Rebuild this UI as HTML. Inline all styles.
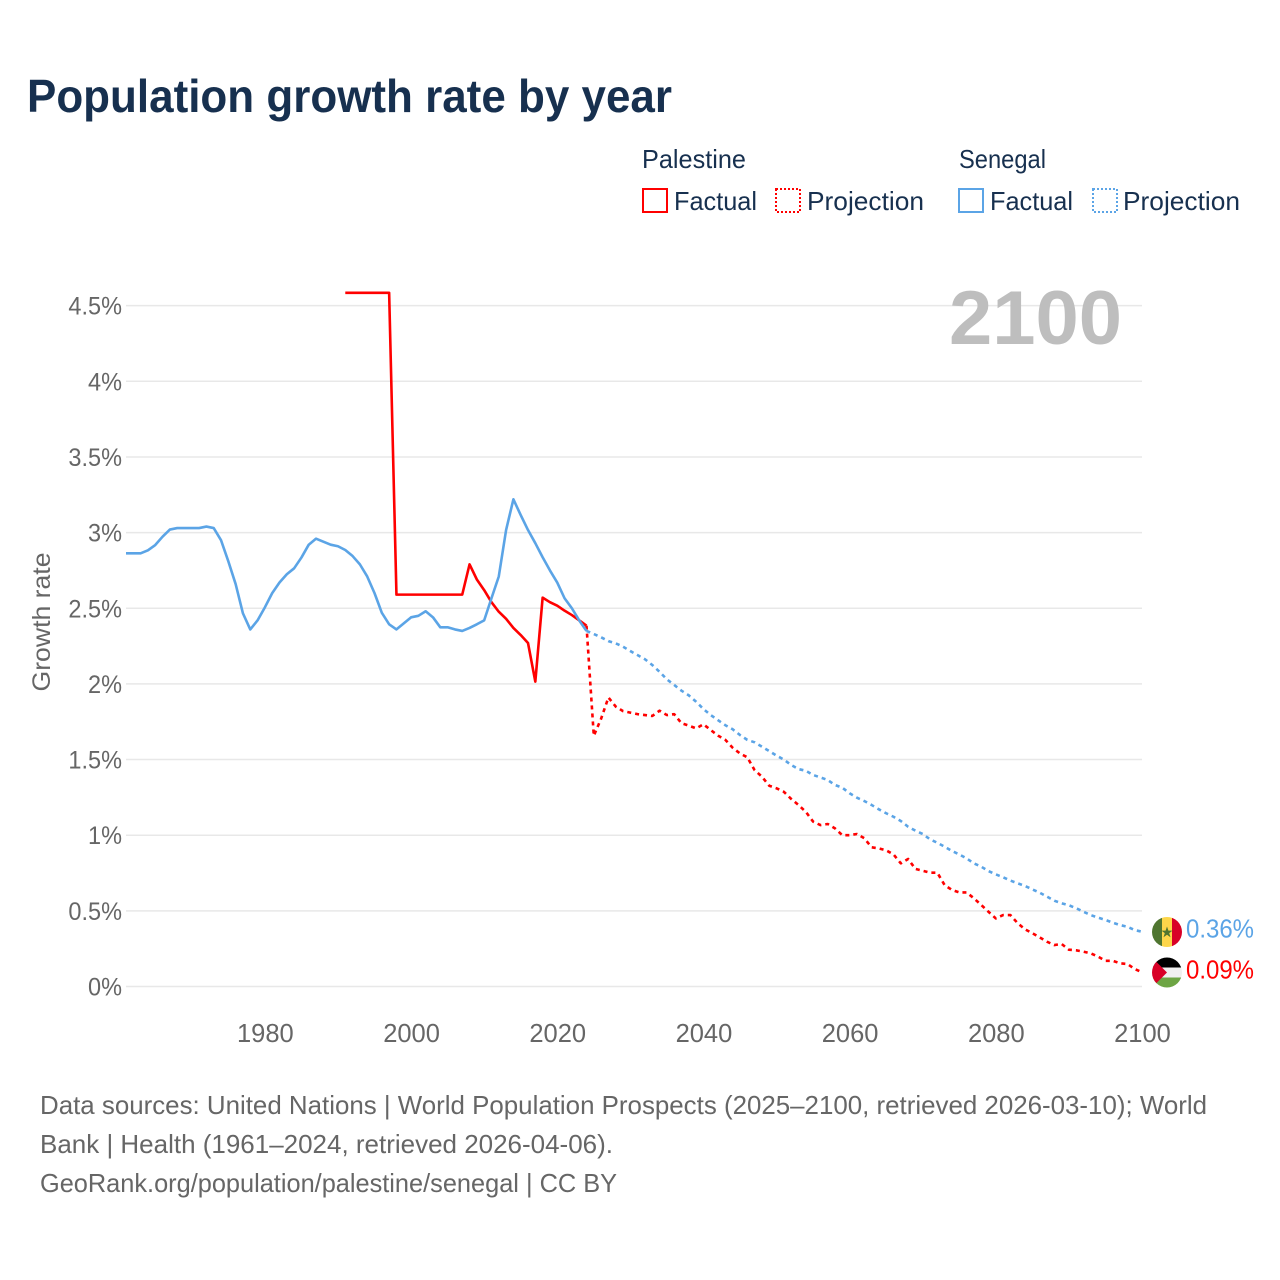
<!DOCTYPE html>
<html lang="en">
<head>
<meta charset="utf-8">
<title>Population growth rate by year</title>
<style>
html,body{margin:0;padding:0;background:#fff;}
svg{display:block;font-family:"Liberation Sans",sans-serif;}
</style>
</head>
<body>
<svg id="chart" xmlns="http://www.w3.org/2000/svg" width="1280" height="1280" viewBox="0 0 1280 1280">
  <rect x="0" y="0" width="1280" height="1280" fill="#ffffff"/>
  <text x="27" y="112" font-size="46" font-weight="700" fill="#17304f" textLength="645" lengthAdjust="spacingAndGlyphs">Population growth rate by year</text>

  <g font-size="26" fill="#17304f">
    <text x="642" y="168" textLength="104" lengthAdjust="spacingAndGlyphs">Palestine</text>
    <rect x="643" y="189" width="24" height="23" fill="none" stroke="#ff0000" stroke-width="2"/>
    <text x="674" y="210" textLength="83" lengthAdjust="spacingAndGlyphs">Factual</text>
    <rect x="776" y="189" width="24" height="23" fill="none" stroke="#ff0000" stroke-width="2" stroke-dasharray="2 2"/>
    <text x="807" y="210" textLength="117" lengthAdjust="spacingAndGlyphs">Projection</text>
    <text x="959" y="168" textLength="87" lengthAdjust="spacingAndGlyphs">Senegal</text>
    <rect x="959" y="189" width="24" height="23" fill="none" stroke="#5ba4e6" stroke-width="2"/>
    <text x="990" y="210" textLength="83" lengthAdjust="spacingAndGlyphs">Factual</text>
    <rect x="1093" y="189" width="24" height="23" fill="none" stroke="#5ba4e6" stroke-width="2" stroke-dasharray="2 2"/>
    <text x="1123" y="210" textLength="117" lengthAdjust="spacingAndGlyphs">Projection</text>
  </g>

  <g id="grid"></g>
  <g id="yticks"></g>
  <g id="xticks"></g>

  <text x="949" y="344" font-size="76" font-weight="700" fill="#bebebe" textLength="173" lengthAdjust="spacingAndGlyphs">2100</text>
  <text transform="translate(50,622) rotate(-90)" text-anchor="middle" font-size="25" fill="#666666" textLength="139" lengthAdjust="spacingAndGlyphs">Growth rate</text>

  <g id="series"></g>

  <defs>
    <clipPath id="clip-sn"><circle cx="1167" cy="932" r="15"/></clipPath>
    <clipPath id="clip-ps"><circle cx="1167" cy="972.5" r="15"/></clipPath>
  </defs>
  <g clip-path="url(#clip-sn)">
    <rect x="1152" y="917" width="10" height="30" fill="#4f7530"/>
    <rect x="1162" y="917" width="10" height="30" fill="#fdd64a"/>
    <rect x="1172" y="917" width="10" height="30" fill="#d80027"/>
    <polygon points="1167,926.5 1168.4,930.6 1172.6,930.6 1169.2,933.1 1170.5,937.2 1167,934.7 1163.5,937.2 1164.8,933.1 1161.4,930.6 1165.6,930.6" fill="#4f7530"/>
  </g>
  <g clip-path="url(#clip-ps)">
    <rect x="1152" y="957.5" width="30" height="10" fill="#000000"/>
    <rect x="1152" y="967.5" width="30" height="10" fill="#f0f0f0"/>
    <rect x="1152" y="977.5" width="30" height="10" fill="#6da544"/>
    <polygon points="1152,957.5 1167,972.5 1152,987.5" fill="#d80027"/>
  </g>
  <g id="endlabels"></g>

  <g font-size="26" fill="#666666">
    <text x="40" y="1114" textLength="1167" lengthAdjust="spacingAndGlyphs">Data sources: United Nations | World Population Prospects (2025–2100, retrieved 2026-03-10); World</text>
    <text x="40" y="1153" textLength="573" lengthAdjust="spacingAndGlyphs">Bank | Health (1961–2024, retrieved 2026-04-06).</text>
    <text x="40" y="1192" textLength="577" lengthAdjust="spacingAndGlyphs">GeoRank.org/population/palestine/senegal | CC BY</text>
  </g>
</svg>
<script>
const yTickValues = [0, 0.5, 1, 1.5, 2, 2.5, 3, 3.5, 4, 4.5];
const yTickLabels = ["0%", "0.5%", "1%", "1.5%", "2%", "2.5%", "3%", "3.5%", "4%", "4.5%"];
const xTickYears = [1980, 2000, 2020, 2040, 2060, 2080, 2100];

const senegalFactualStart = 1961;
const senegalFactual = [2.863,2.863,2.863,2.883,2.918,2.973,3.02,3.03,3.03,3.03,3.03,3.04,3.03,2.95,2.81,2.66,2.466,2.36,2.42,2.506,2.6,2.67,2.725,2.764,2.835,2.92,2.96,2.94,2.92,2.91,2.885,2.845,2.79,2.71,2.6,2.47,2.394,2.36,2.4,2.44,2.45,2.48,2.44,2.374,2.374,2.36,2.35,2.37,2.394,2.42,2.566,2.71,3.017,3.22,3.116,3.017,2.93,2.837,2.75,2.67,2.566,2.5,2.42,2.35];

const senegalProjectionStart = 2024;
const senegalProjection = [2.35,2.33,2.308,2.283,2.268,2.246,2.217,2.19,2.163,2.125,2.08,2.03,1.993,1.955,1.924,1.882,1.834,1.794,1.76,1.727,1.7,1.662,1.63,1.614,1.585,1.556,1.526,1.5,1.464,1.437,1.426,1.398,1.382,1.365,1.332,1.314,1.277,1.248,1.226,1.2,1.171,1.145,1.122,1.094,1.056,1.03,1.008,0.973,0.95,0.924,0.896,0.873,0.847,0.814,0.792,0.763,0.741,0.722,0.7,0.682,0.664,0.642,0.62,0.594,0.567,0.55,0.537,0.517,0.494,0.472,0.455,0.44,0.422,0.406,0.395,0.373,0.362];

const palestineFactualStart = 1991;
const palestineFactual = [4.585,4.585,4.585,4.585,4.585,4.585,4.585,2.59,2.59,2.59,2.59,2.59,2.59,2.59,2.59,2.59,2.59,2.79,2.69,2.62,2.54,2.477,2.43,2.37,2.323,2.27,2.015,2.57,2.54,2.517,2.484,2.455,2.42,2.385];

const palestineProjectionStart = 2024;
const palestineProjection = [2.385,1.657,1.77,1.91,1.85,1.82,1.81,1.8,1.794,1.788,1.823,1.794,1.8,1.74,1.724,1.706,1.733,1.695,1.658,1.63,1.578,1.54,1.515,1.43,1.387,1.327,1.31,1.287,1.24,1.2,1.155,1.09,1.067,1.074,1.045,1,1,1.008,0.98,0.92,0.913,0.9,0.873,0.814,0.843,0.777,0.765,0.752,0.752,0.67,0.638,0.622,0.622,0.583,0.539,0.494,0.45,0.472,0.472,0.418,0.378,0.352,0.325,0.296,0.274,0.281,0.243,0.239,0.23,0.219,0.197,0.17,0.17,0.153,0.149,0.116,0.094];

const SVG_NS = "http://www.w3.org/2000/svg";
const xLeft = 126, xRight = 1142, yearMin = 1961, yearMax = 2100;
const yZero = 986.5, pxPerUnit = 151.3;

function xScale(year) {
  return xLeft + (year - yearMin) * (xRight - xLeft) / (yearMax - yearMin);
}
function yScale(value) {
  return yZero - value * pxPerUnit;
}
function make(tag, attrs, parentId) {
  const el = document.createElementNS(SVG_NS, tag);
  for (const k in attrs) el.setAttribute(k, attrs[k]);
  document.getElementById(parentId).appendChild(el);
  return el;
}

yTickValues.forEach(function (v, i) {
  const line = make("line", {x1: xLeft, x2: xRight, y1: yScale(v), y2: yScale(v), stroke: "#e8e8e8", "stroke-width": 1.5}, "grid");
  
  
  const label = make("text", {x: 122, y: yScale(v) + 9, "text-anchor": "end", "font-size": 25, fill: "#666666"}, "yticks");
  
  
  label.textContent = yTickLabels[i];
  label.setAttribute("textLength", (label.getComputedTextLength() * 0.94).toFixed(1));
  label.setAttribute("lengthAdjust", "spacingAndGlyphs");
});

xTickYears.forEach(function (yr) {
  const label = make("text", {x: xScale(yr) + 0.5, y: 1042, "text-anchor": "middle", "font-size": 25.5, fill: "#666666"}, "xticks");
  
  
  label.textContent = yr;
});

function drawLine(values, startYear, color, dash, name) {
  const pts = values.map(function (v, i) {
    return xScale(startYear + i).toFixed(2) + "," + yScale(v).toFixed(2);
  }).join(" ");
  const attrs = {points: pts, fill: "none", stroke: color, "stroke-width": 2.6, "stroke-linejoin": "round"};
  if (dash) attrs["stroke-dasharray"] = dash;
  const el = make("polyline", attrs, "series");
  
  
}

drawLine(senegalProjection, senegalProjectionStart, "#5ba4e6", "4 4", "senegal-projection-line");
drawLine(palestineProjection, palestineProjectionStart, "#ff0000", "4 4", "palestine-projection-line");
drawLine(palestineFactual, palestineFactualStart, "#ff0000", null, "palestine-factual-line");
drawLine(senegalFactual, senegalFactualStart, "#5ba4e6", null, "senegal-factual-line");

function endLabel(values, color, name) {
  const v = values[values.length - 1];
  const t = make("text", {x: 1186, y: yScale(v) + 6, "font-size": 25.5, fill: color, textLength: 68, lengthAdjust: "spacingAndGlyphs"}, "endlabels");
  
  
  t.textContent = v.toFixed(2) + "%";
}
endLabel(senegalProjection, "#5ba4e6", "senegal-end-value");
endLabel(palestineProjection, "#ff0000", "palestine-end-value");
</script>
</body>
</html>
